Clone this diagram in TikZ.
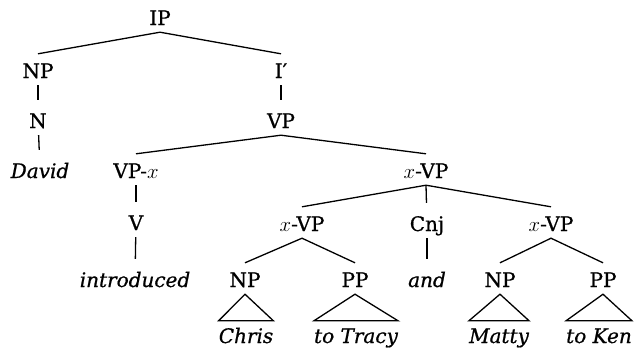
\documentclass[tikz,border=0pt]{standalone}
\usepackage{fontspec}
\setmainfont{DejaVu Serif}[FakeBold=0.8]
\usepackage{tikz}

\begin{document}
\begin{tikzpicture}[
    x=1pt, y=-1pt,
    cat/.style  = {anchor=base, inner xsep=2pt, inner ysep=4pt,
                   text height=20pt, text depth=3pt,
                   font=\fontsize{20}{22}\selectfont},
    word/.style = {cat, font=\fontsize{20}{22}\selectfont\itshape},
    leaf/.style = {anchor=base, inner sep=0pt, text height=22pt,
                   text depth=4pt, font=\fontsize{20}{22}\selectfont\itshape},
    br/.style   = {line width=1.3pt},
    un/.style   = {br, shorten >=4pt},
    tri/.style  = {br, line join=miter},
  ]
  \useasboundingbox (0,0) rectangle (637,349);
  % categories
  \node[cat] (ip)   at (160,25)  {IP};
  \node[cat] (np1)  at (38,78)   {NP};
  \node[cat] (ibar) at (281,78)  {I′};
  \node[cat] (n1)   at (38,128)  {N};
  \node[cat] (vp)   at (281,128) {VP};
  \node[word] (david) at (40,178) {David};
  \node[cat] (vpx)  at (136,178) {VP-$x$};
  \node[cat] (xvp)  at (426,178) {$x$-VP};
  \node[cat] (v)    at (136,230) {V};
  \node[cat] (xvpl) at (302,231) {$x$-VP};
  \node[cat] (cnj)  at (427,231) {Cnj};
  \node[cat] (xvpr) at (551,231) {$x$-VP};
  \node[word] (intro) at (135,287) {introduced};
  \node[cat] (np2)  at (245,287) {NP};
  \node[cat] (pp1)  at (355,287) {PP};
  \node[word] (and) at (427,287) {and};
  \node[cat] (np3)  at (500,287) {NP};
  \node[cat] (pp2)  at (603,287) {PP};
  % leaves under triangles
  \node[leaf] (chris) at (246,343) {Chris};
  \node[leaf] (tracy) at (356,343) {to Tracy};
  \node[leaf] (matty) at (499,343) {Matty};
  \node[leaf] (ken)   at (599,343) {to Ken};
  % branches
  \draw[br] (np1.north) -- (ip.south) -- (ibar.north);
  \draw[un] (np1) -- (n1);
  \draw[un] (n1) -- (david);
  \draw[un] (ibar) -- (vp);
  \draw[br] (vpx.north) -- (vp.south) -- (xvp.north);
  \draw[un] (vpx) -- (v);
  \draw[un] (v) -- (intro);
  \draw[br] (xvpl.north) -- (xvp.south) -- (xvpr.north);
  \draw[un] (xvp.south) -- (cnj);
  \draw[un] (cnj) -- (and);
  \draw[br] (np2.north) -- (xvpl.south) -- (pp1.north);
  \draw[br] (np3.north) -- (xvpr.south) -- (pp2.north);
  \draw[tri] (np2.south) -- (chris.north west) -- (chris.north east) -- cycle;
  \draw[tri] (pp1.south) -- (tracy.north west) -- (tracy.north east) -- cycle;
  \draw[tri] (np3.south) -- (matty.north west) -- (matty.north east) -- cycle;
  \draw[tri] (pp2.south) -- (ken.north west) -- (ken.north east) -- cycle;
\end{tikzpicture}
\end{document}
